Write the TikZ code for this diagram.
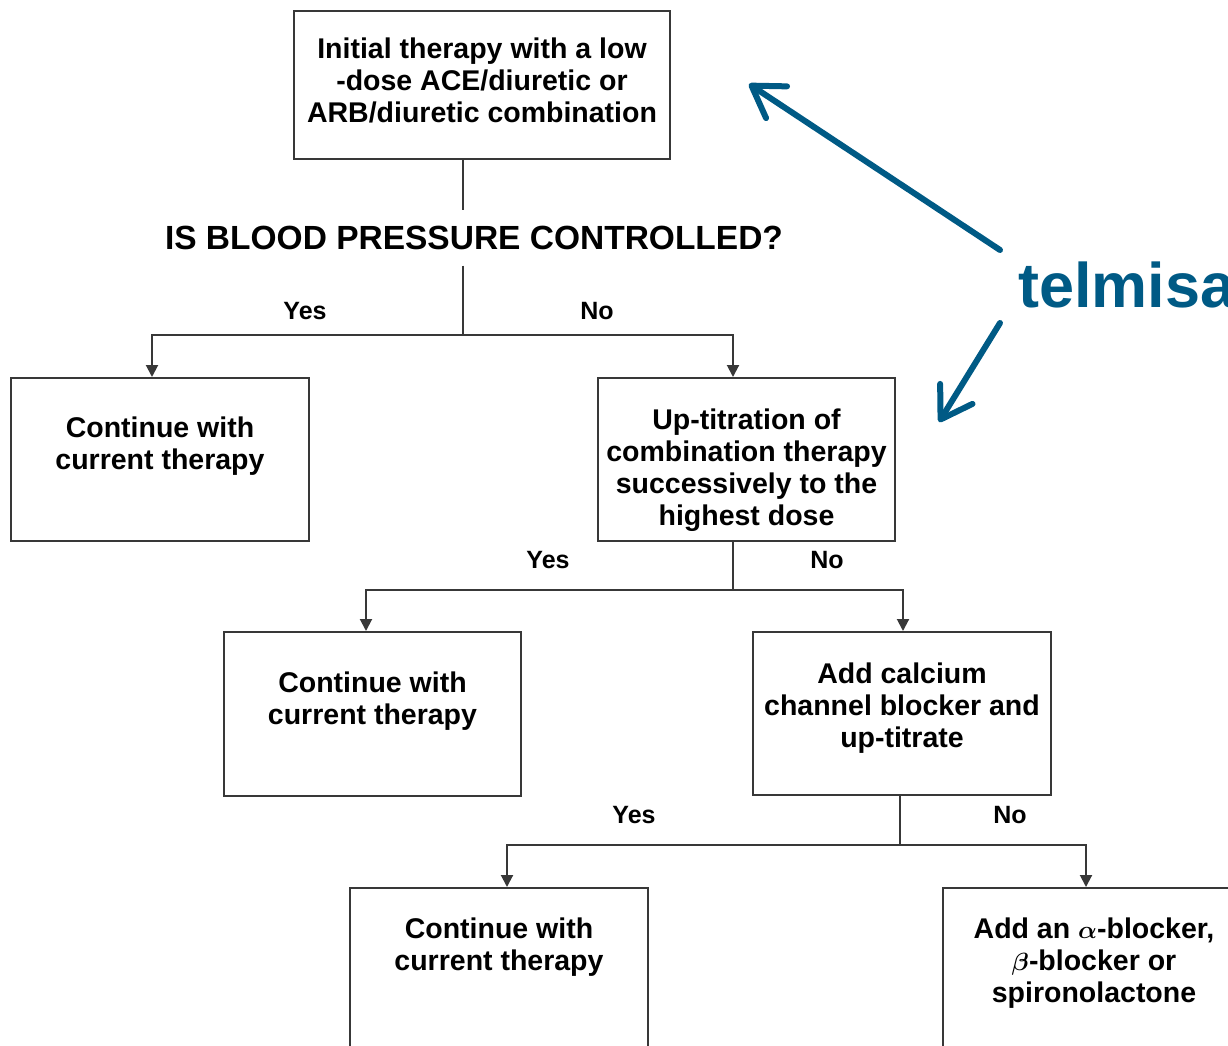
\documentclass[tikz,border=0pt]{standalone}
\usepackage{amsmath}
\usepackage{fontspec}
\setmainfont{Liberation Sans}
\usepackage{tikz}
\usetikzlibrary{arrows.meta}
\usetikzlibrary{calc}

\definecolor{telblue}{HTML}{005A85}
\definecolor{flowgray}{HTML}{383838}

\begin{document}
\begin{tikzpicture}[x=1pt, y=-1pt,
        box_style/.style={draw=flowgray, line width=2pt, align=center, inner sep=0pt,
            font=\fontsize{28.5}{32}\selectfont\bfseries},
        answer_style/.style={font=\fontsize{25}{30}\selectfont\bfseries},
        line_style/.style={draw=flowgray, line width=2pt},
        arrow_style/.style={draw=flowgray, line width=2pt, -{Triangle[length=12pt,width=12pt]}},
        tel_arrow_style/.style={draw=telblue, line width=6pt, line cap=round,
            -{Straight Barb[length=30pt,width=38pt,line width=6pt,round]}}]

        \useasboundingbox (0,0) rectangle (1228,1046);

        \node [box_style, minimum width=376, minimum height=148](init) at (482,85)
            {Initial therapy with a low\\-dose ACE/diuretic or\\ARB/diuretic combination\\[-23pt]\mbox{}};

        \node [font=\fontsize{33.5}{36}\selectfont\bfseries, text height=23, text depth=0,
            inner xsep=3, inner ysep=16](quest) at (474,238) {IS BLOOD PRESSURE CONTROLLED?};

        \node [box_style, minimum width=298, minimum height=163](cont1) at (160,459.5)
            {Continue with\\current therapy\\\mbox{}};

        \node [box_style, minimum width=297, minimum height=163](up) at (746.5,459.5)
            {\strut\\[-12pt]Up-titration of\\combination therapy\\successively to the\\highest dose};

        \node [box_style, minimum width=297, minimum height=164](cont2) at (372.5,714)
            {Continue with\\current therapy\\\mbox{}};

        \node [box_style, minimum width=298, minimum height=163](calc) at (902,713.5)
            {Add calcium\\channel blocker and\\up-titrate\\[-16pt]\mbox{}};

        \node [box_style, minimum width=298, minimum height=176](cont3) at (499,976)
            {Continue with\\current therapy\\\mbox{}\\\mbox{}};

        \node [box_style, minimum width=302, minimum height=176](alpha) at (1094,976)
            {Add an $\boldsymbol{\alpha}$-blocker,\\$\boldsymbol{\beta}$-blocker or\\spironolactone\\\mbox{}};

        \node [answer_style](yes1) at (305,311) {Yes};
        \node [answer_style](no1) at (597,311) {No};
        \node [answer_style](yes2) at (548,560) {Yes};
        \node [answer_style](no2) at (827,560) {No};
        \node [answer_style](yes3) at (634,815) {Yes};
        \node [answer_style](no3) at (1010,815) {No};

        \node [text=telblue, anchor=base west, inner sep=0pt,
            font=\fontsize{63}{70}\selectfont\bfseries](tel) at (1018,307) {telmisa};

        % branch points
        \coordinate (j1) at (463,335);
        \coordinate (j2) at (733,590);
        \coordinate (j3) at (900,845);

        \draw [line_style] (init.south -| j1) -- (quest.north -| j1);
        \draw [line_style] (quest.south -| j1) -- (j1);
        \draw [arrow_style] (j1) -| ([xshift=-8]cont1.north);
        \draw [arrow_style] (j1) -| ([xshift=-13.5]up.north);

        \draw [line_style] (up.south -| j2) -- (j2);
        \draw [arrow_style] (j2) -| ([xshift=-6.5]cont2.north);
        \draw [arrow_style] (j2) -| ([xshift=1]calc.north);

        \draw [line_style] (calc.south -| j3) -- (j3);
        \draw [arrow_style] (j3) -| ([xshift=8]cont3.north);
        \draw [arrow_style] (j3) -| ([xshift=-8]alpha.north);

        % pointers from the drug name
        \coordinate (tel_from1) at (1000,250);
        \coordinate (tel_to1) at (749,84);
        \coordinate (tel_from2) at (1000,323);
        \coordinate (tel_to2) at (939,422);
        \draw [tel_arrow_style] (tel_from1) -- (tel_to1);
        \draw [tel_arrow_style] (tel_from2) -- (tel_to2);

        \end{tikzpicture}
\end{document}
